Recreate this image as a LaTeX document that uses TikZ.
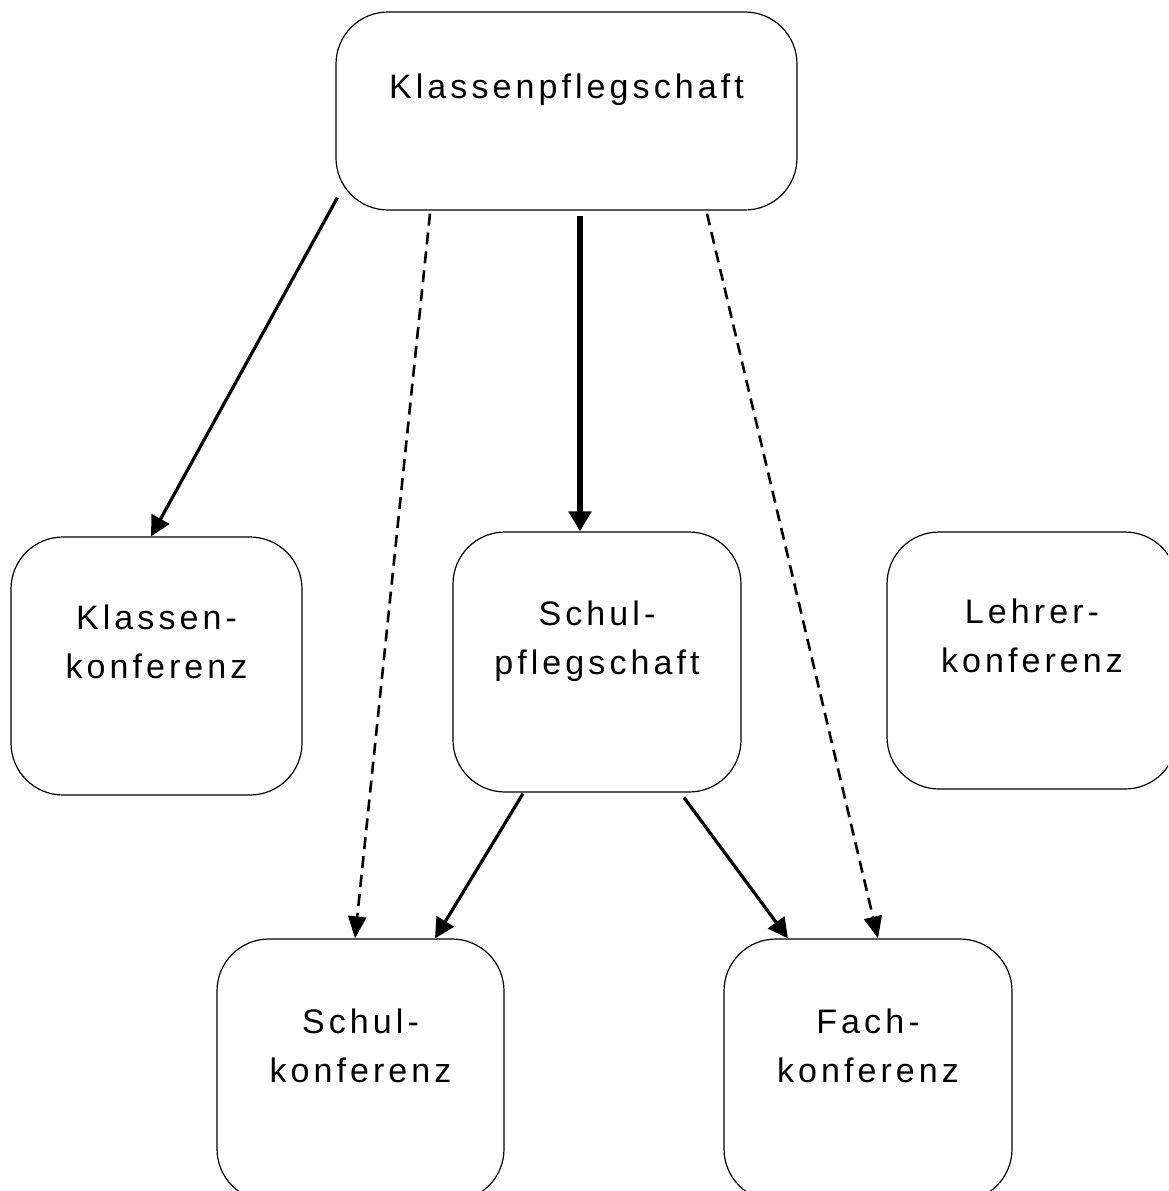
\documentclass[tikz,border=0pt]{standalone}
\usepackage{fontspec}
\setmainfont[LetterSpace=12]{Liberation Sans}
\usetikzlibrary{arrows.meta,calc}
\tikzset{
  box/.style={draw=black, line width=1.2pt, rounded corners=52pt, fill=white,
    inner sep=0pt, align=center, font=\fontsize{34}{49}\selectfont},
  solidarrow/.style={line width=3.2pt, -{Triangle[length=20pt,width=20pt]}},
  thickarrow/.style={line width=6pt, -{Triangle[length=20pt,width=22pt]}},
  dasharrow/.style={line width=2.6pt, dash pattern=on 12pt off 7pt, -{Triangle[length=22pt,width=18pt]}}
}
\begin{document}
\begin{tikzpicture}[x=1pt,y=-1pt]
\useasboundingbox (0,0) rectangle (1168,1191);
\clip (0,0) rectangle (1168,1191);
\fill[white] (0,0) rectangle (1168,1191);
\node[box, minimum width=461pt, minimum height=198pt] (kp) at (566.5,111) {Klassenpflegschaft\\\mbox{}};
\node[box, minimum width=291pt, minimum height=258pt] (kk) at (156.5,666) {Klassen-\\konferenz\\\mbox{}};
\node[box, minimum width=288pt, minimum height=260pt] (sp) at (597,662) {Schul-\\pflegschaft\\\mbox{}};
\node[box, minimum width=290pt, minimum height=257pt] (lk) at (1032,660.5) {Lehrer-\\konferenz\\\mbox{}};
\node[box, minimum width=287pt, minimum height=262pt] (sk) at (360.5,1070) {Schul-\\konferenz\\\mbox{}};
\node[box, minimum width=288pt, minimum height=262pt] (fk) at (868,1070) {Fach-\\konferenz\\\mbox{}};

\draw[solidarrow] ($(kp.south west)+(2,-13)$) -- ($(kk.north)+(-5.5,0)$);
\draw[dasharrow] ($(kp.south)+(-136.5,3)$) -- ($(sk.north)+(-5.5,0)$);
\draw[thickarrow] ($(kp.south)+(13.5,5)$) -- ($(sp.north)+(-17,0)$);
\draw[dasharrow] ($(kp.south)+(140.5,3)$) -- ($(fk.north)+(10,0)$);
\draw[solidarrow] ($(sp.south)+(-74,1)$) -- ($(sk.north)+(74.5,0)$);
\draw[solidarrow] ($(sp.south)+(87,5)$) -- ($(fk.north)+(-80,0)$);
\end{tikzpicture}
\end{document}
